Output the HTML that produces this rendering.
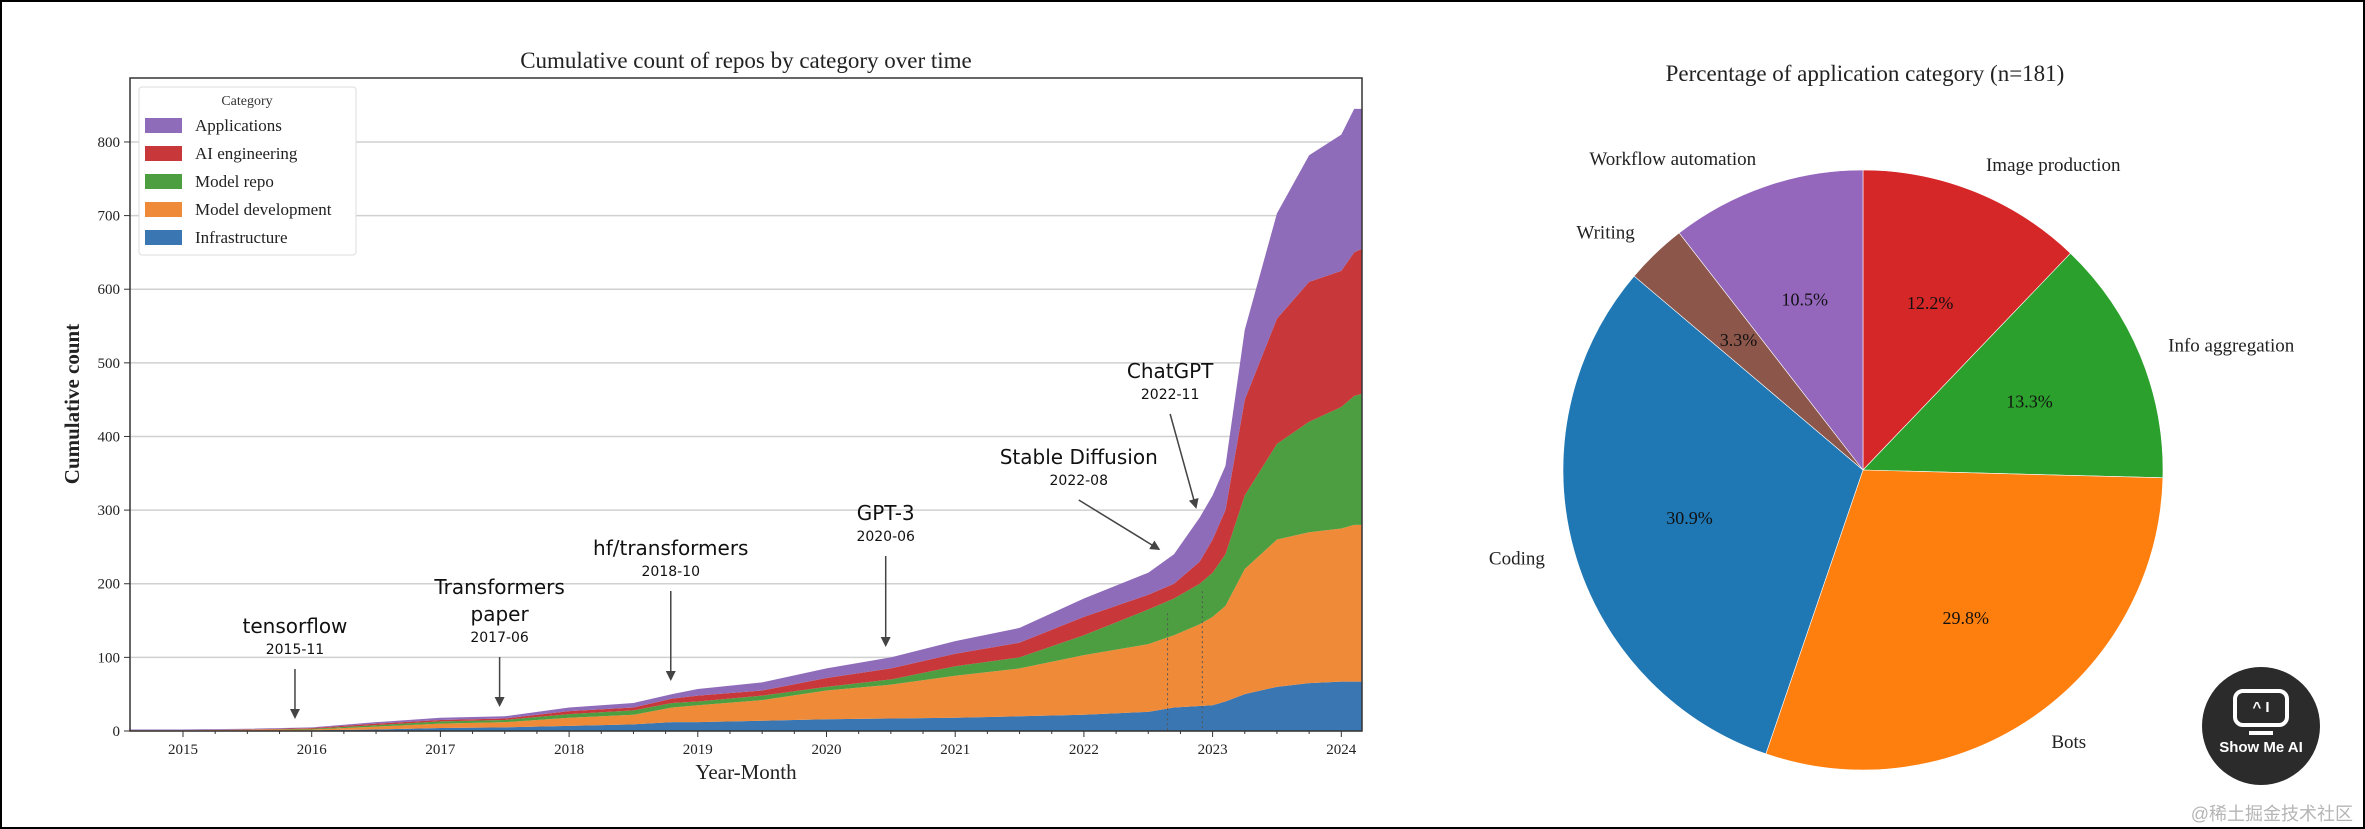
<!DOCTYPE html>
<html><head><meta charset="utf-8"><style>
html,body{margin:0;padding:0;background:#fff}
#wrap{position:relative;width:2365px;height:829px;box-sizing:border-box;border:2px solid #000;overflow:hidden}
svg{position:absolute;left:0;top:0}
text{font-family:"Liberation Serif",serif}
.sans{font-family:"DejaVu Sans","Liberation Sans",sans-serif}
</style></head><body>
<div id="wrap">
<svg id="s" width="2365" height="829" viewBox="0 0 2365 829">
<defs><marker id="ah" markerWidth="10" markerHeight="10" refX="8" refY="5" orient="auto" markerUnits="userSpaceOnUse"><path d="M0,0 L10,5 L0,10 z" fill="#444"/></marker></defs>
<g id="area"></g>
<g id="pie"></g>
</svg>
<div style="position:absolute;left:2200px;top:665px;width:118px;height:118px;border-radius:50%;background:#2b2b2b;color:#fff;font-family:'Liberation Sans',sans-serif;font-weight:bold;text-align:center">
 <div style="margin:22px auto 0;width:56px;height:38px;border:4px solid #fff;border-radius:10px;box-sizing:border-box;font-size:15px;line-height:30px">^ I</div>
 <div style="margin:4px auto 0;width:24px;height:4px;background:#fff"></div>
 <div style="font-size:15px;margin-top:4px">Show Me AI</div>
</div>
<div style="position:absolute;right:10px;top:798px;color:#b5b5b5;font-size:18px;font-family:'Liberation Sans','Noto Sans CJK SC',sans-serif">@稀土掘金技术社区</div>
</div>
<script>
// ---------- Stacked area data ----------
const dates = [2014.58,2015.0,2015.5,2016.0,2016.5,2017.0,2017.5,2018.0,2018.5,2018.8,2019.0,2019.5,2020.0,2020.5,2021.0,2021.5,2022.0,2022.5,2022.7,2022.9,2023.0,2023.1,2023.25,2023.5,2023.75,2024.0,2024.1,2024.16];
const infrastructure = [0,0,0,1,2,4,5,7,9,12,12,14,16,17,18,20,22,26,32,34,35,40,50,60,65,67,67,67];
const modelDevelopment = [1,1,2,1,4,6,7,11,13,20,23,28,39,46,57,65,81,92,98,111,120,130,170,200,205,208,213,213];
const modelRepo = [0,0,0,1,2,3,3,5,6,6,5,6,5,7,13,15,27,47,50,55,60,70,100,130,150,165,175,178];
const aiEngineering = [0,0,0,1,2,2,2,4,4,6,8,7,12,15,17,20,25,20,20,30,45,60,130,170,190,185,195,197];
const applications = [1,1,1,1,2,3,3,5,6,6,9,11,13,15,17,20,25,30,40,60,60,60,95,143,172,185,195,190];
const yTicks = [0,100,200,300,400,500,600,700,800];
const xTickYears = [2015,2016,2017,2018,2019,2020,2021,2022,2023,2024];
const annotations = [
 {lines:["tensorflow"],date:"2015-11",t:2015.87,ty:624},
 {lines:["Transformers","paper"],date:"2017-06",t:2017.46,ty:585},
 {lines:["hf/transformers"],date:"2018-10",t:2018.79,ty:546},
 {lines:["GPT-3"],date:"2020-06",t:2020.46,ty:511},
 {lines:["Stable Diffusion"],date:"2022-08",t:2021.96,ty:455,ax:2022.58,ay:547},
 {lines:["ChatGPT"],date:"2022-11",t:2022.67,ty:369,ax:2022.87,ay:505}
];
// ---------- Pie data ----------
const pieLabels = ["Image production","Info aggregation","Bots","Coding","Writing","Workflow automation"];
const pieCounts = [22,24,54,56,6,19];
const pieColors = ["#d62728","#2ca02c","#ff7f0e","#1f77b4","#8c564b","#9467bd"];

const NS="http://www.w3.org/2000/svg";
function mk(tag,attrs,parent,txt){const e=document.createElementNS(NS,tag);for(const k in attrs)e.setAttribute(k,attrs[k]);if(txt!==undefined)e.textContent=txt;parent.appendChild(e);return e;}

const L=128,R=1360,T=76,B=729;
const x=t=>181+(t-2015)*128.7;
const y=v=>B-v*0.7363;
const area=document.getElementById('area');

const axbg=mk('rect',{x:L,y:T,width:R-L,height:B-T,fill:'#fff'},area);


yTicks.forEach(v=>{
 const g=mk('line',{x1:L,x2:R,y1:y(v),y2:y(v),stroke:'#d0d0d0','stroke-width':1.5},area);
 
 
 mk('line',{x1:L-6,x2:L,y1:y(v),y2:y(v),stroke:'#333'},area);
 const tl=mk('text',{x:L-10,y:y(v)+5,'text-anchor':'end','font-size':15,fill:'#222'},area,String(v));
 
 
});
const series=[infrastructure,modelDevelopment,modelRepo,aiEngineering,applications];
const names=["infrastructure","model-development","model-repo","ai-engineering","applications"];
const colors=["#3a76b2","#ef8a38","#4c9e40","#c8383a","#8f6cb9"];
let base=dates.map(()=>0);
series.forEach((s,i)=>{
 const top=base.map((b,j)=>b+s[j]);
 let d='M'+dates.map((t,j)=>x(t)+','+y(top[j])).join(' L');
 for(let j=dates.length-1;j>=0;j--) d+=' L'+x(dates[j])+','+y(base[j]);
 const p=mk('path',{d:d+'Z',fill:colors[i]},area);
 
 
 base=top;
});
// dotted lines
[[2022.65,160],[2022.92,190]].forEach(([t,v])=>{
 const l=mk('line',{x1:x(t),x2:x(t),y1:y(v),y2:B,stroke:'#555','stroke-dasharray':'2,3','stroke-width':1},area);
 
 
});
const fr=mk('rect',{x:L,y:T,width:R-L,height:B-T,fill:'none',stroke:'#333','stroke-width':1.5},area);


xTickYears.forEach(yr=>{
 mk('line',{x1:x(yr),x2:x(yr),y1:B,y2:B+6,stroke:'#333'},area);
 for(let q=1;q<4;q++){const xx=x(yr+q/4);if(xx<R)mk('line',{x1:xx,x2:xx,y1:B,y2:B+3,stroke:'#333'},area);}
 const tl=mk('text',{x:x(yr),y:B+23,'text-anchor':'middle','font-size':15,fill:'#222'},area,String(yr));
 
 
});
const tt=mk('text',{x:744,y:66,'text-anchor':'middle','font-size':23,fill:'#222'},area,'Cumulative count of repos by category over time');


const xl=mk('text',{x:744,y:777,'text-anchor':'middle','font-size':21,fill:'#222'},area,'Year-Month');


const yl=mk('text',{x:0,y:0,'text-anchor':'middle','font-size':21,'font-weight':'bold',fill:'#222',transform:'translate(77,402) rotate(-90)'},area,'Cumulative count');


// legend
const lg=mk('g',{},area);


mk('rect',{x:137,y:85,width:217,height:168,fill:'#fff',stroke:'#ddd',rx:3},lg);
mk('text',{x:245,y:103,'text-anchor':'middle','font-size':14,fill:'#333'},lg,'Category');
const legOrder=[4,3,2,1,0],legNames=["Infrastructure","Model development","Model repo","AI engineering","Applications"];
legOrder.forEach((si,k)=>{
 const yy=124+k*28;
 const e=mk('g',{},lg);
 
 
 mk('rect',{x:143,y:yy-8,width:37,height:15,fill:colors[si]},e);
 mk('text',{x:193,y:yy+5,'font-size':17,fill:'#222'},e,legNames[si]);
});
// annotations
annotations.forEach((a,i)=>{
 const g=mk('g',{},area);
 
 
 const tx=x(a.t);
 let yy=a.ty;
 a.lines.forEach(ln=>{mk('text',{x:tx,y:yy+7,'text-anchor':'middle','font-size':20,fill:'#111',class:'sans'},g,ln);yy+=27;});
 yy-=27;
 mk('text',{x:tx,y:yy+28,'text-anchor':'middle','font-size':14,fill:'#111',class:'sans'},g,a.date);
 const y1=yy+43;
 let x2=tx,y2=y1+48;
 if(a.ax!==undefined){x2=x(a.ax);y2=a.ay;}
 else{ y2 = i===2?677:(i===3?643:y1+48); }
 mk('line',{x1:tx,y1:y1,x2:x2,y2:y2,stroke:'#444','stroke-width':1.5,'marker-end':'url(#ah)'},g);
});
// ---------- Pie ----------
const pie=document.getElementById('pie');
const cx=1861,cy=468,r=300;
const total=pieCounts.reduce((a,b)=>a+b,0);
const pt=mk('text',{x:1863,y:79,'text-anchor':'middle','font-size':23,fill:'#222'},pie,'Percentage of application category (n='+total+')');


let ang=90;
pieCounts.forEach((c,i)=>{
 const sweep=c/total*360;
 const a0=ang*Math.PI/180,a1=(ang-sweep)*Math.PI/180;
 const p0=[cx+r*Math.cos(a0),cy-r*Math.sin(a0)],p1=[cx+r*Math.cos(a1),cy-r*Math.sin(a1)];
 const sl=mk('path',{d:`M${cx},${cy} L${p0[0]},${p0[1]} A${r},${r} 0 ${sweep>180?1:0} 1 ${p1[0]},${p1[1]} Z`,fill:pieColors[i],stroke:'#fff','stroke-width':0.6},pie);
 
 
 const am=(ang-sweep/2)*Math.PI/180;
 const lx=cx+1.1*r*Math.cos(am),ly=cy-1.1*r*Math.sin(am);
 const lt=mk('text',{x:lx,y:ly+7,'text-anchor':Math.cos(am)>=0?'start':'end','font-size':19,fill:'#222'},pie,pieLabels[i]);
 
 
 const px=cx+0.6*r*Math.cos(am),py=cy-0.6*r*Math.sin(am);
 const pc=mk('text',{x:px,y:py+6,'text-anchor':'middle','font-size':18,fill:'#111'},pie,(c/total*100).toFixed(1)+'%');
 
 
 ang-=sweep;
});
</script>
</body></html>
